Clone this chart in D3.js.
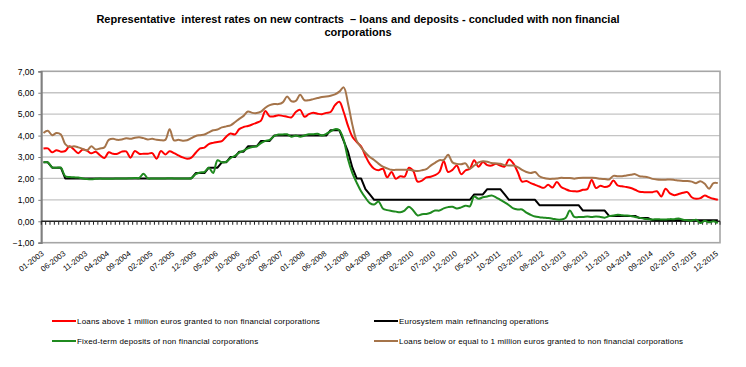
<!DOCTYPE html>
<html>
<head>
<meta charset="utf-8">
<script src="https://cdn.jsdelivr.net/npm/d3@7"></script>
<style>
  body { margin: 0; background: #fff; }
  svg { display: block; font-family: Arial, 'Liberation Sans', sans-serif; }
  .title { font-size: 11px; font-weight: bold; }
  .ylab { font-size: 8.5px; }
  .xlab { font-size: 7.8px; }
  .leg { font-size: 8px; letter-spacing: 0.18px; }
</style>
</head>
<body>
<svg width="746" height="367"></svg>
<script>
// categories: one per month, 01-2003 .. 12-2015
const months = d3.timeMonth.range(new Date(2003, 0, 1), new Date(2016, 0, 1))
  .map(d3.timeFormat('%m-%Y'));

const yTicks = [-1, 0, 1, 2, 3, 4, 5, 6, 7];

const seriesNames = [
  'Loans above 1 million euros granted to non financial corporations',
  'Eurosystem main refinancing operations',
  'Fixed-term deposits of non financial corporations',
  'Loans below or equal to 1 million euros granted to non financial corporations'
];

const loansAbove = [
  3.40,3.40,3.22,3.32,3.25,3.28,3.50,3.35,3.18,3.35,3.30,3.17,3.25,3.08,2.95,3.22,3.15,3.15,3.25,3.26,2.97,3.28,3.15,3.15,3.15,3.18,2.92,3.28,3.12,3.27,3.18,3.08,
  2.98,2.92,2.97,3.20,3.40,3.44,3.60,3.66,3.70,3.74,3.95,4.10,4.05,4.30,4.40,4.45,4.52,4.60,4.70,5.15,4.90,4.90,4.95,4.92,4.88,4.85,5.10,5.20,4.88,5.00,
  5.06,5.02,5.00,5.06,5.10,5.42,5.58,5.10,4.45,3.95,3.70,3.50,3.05,2.68,2.45,2.38,2.45,2.05,2.30,1.98,2.10,2.08,2.50,2.35,1.85,1.90,2.05,2.08,2.15,2.30,2.80,
  2.30,2.40,2.60,2.20,2.37,2.45,2.85,2.55,2.77,2.62,2.60,2.68,2.60,2.55,2.88,2.70,2.30,1.85,1.88,1.78,1.70,1.62,1.56,1.70,1.58,1.83,1.60,1.50,1.42,1.40,1.40,1.47,1.50,
  1.93,1.55,1.66,1.60,1.65,1.90,1.67,1.63,1.60,1.55,1.47,1.38,1.36,1.36,1.36,1.40,1.16,1.52,1.30,1.22,1.27,1.33,1.36,1.12,1.05,1.08,1.20,1.12,1.05,1.00
];

const mainRefi = [
  2.75,2.75,2.50,2.50,2.50,2.00,2.00,2.00,2.00,2.00,2.00,2.00,2.00,2.00,2.00,2.00,2.00,2.00,2.00,2.00,2.00,2.00,2.00,2.00,2.00,2.00,2.00,2.00,2.00,2.00,2.00,2.00,
  2.00,2.00,2.00,2.25,2.25,2.25,2.50,2.50,2.50,2.75,2.75,3.00,3.00,3.25,3.25,3.50,3.50,3.50,3.75,3.75,3.75,4.00,4.00,4.00,4.00,4.00,4.00,4.00,4.00,4.00,
  4.00,4.00,4.00,4.00,4.25,4.25,4.25,3.75,3.25,2.50,2.00,2.00,1.50,1.25,1.00,1.00,1.00,1.00,1.00,1.00,1.00,1.00,1.00,1.00,1.00,1.00,1.00,1.00,1.00,1.00,1.00,
  1.00,1.00,1.00,1.00,1.00,1.00,1.25,1.25,1.25,1.50,1.50,1.50,1.50,1.25,1.00,1.00,1.00,1.00,1.00,1.00,1.00,0.75,0.75,0.75,0.75,0.75,0.75,0.75,0.75,0.75,0.75,0.50,0.50,
  0.50,0.50,0.50,0.50,0.25,0.25,0.25,0.25,0.25,0.25,0.25,0.15,0.15,0.15,0.05,0.05,0.05,0.05,0.05,0.05,0.05,0.05,0.05,0.05,0.05,0.05,0.05,0.05,0.05,0.05
];

const depositsFixed = [
  2.75,2.75,2.52,2.50,2.50,2.10,2.07,2.05,2.04,2.00,1.97,1.96,1.98,2.00,1.98,1.99,1.99,2.00,2.00,2.00,2.01,2.02,2.02,2.22,2.00,2.00,2.00,2.00,2.00,2.01,2.00,2.00,
  2.00,2.00,2.02,2.20,2.28,2.30,2.50,2.25,2.85,2.75,2.78,2.95,3.05,3.20,3.30,3.40,3.47,3.50,3.65,3.75,3.80,3.97,4.05,4.05,4.06,3.95,4.00,3.95,4.00,4.06,
  4.06,4.08,4.00,4.08,4.20,4.30,4.25,3.80,2.90,2.25,1.80,1.40,1.10,0.85,0.78,0.92,0.60,0.52,0.48,0.45,0.42,0.50,0.68,0.50,0.27,0.33,0.34,0.40,0.50,0.50,0.60,
  0.66,0.68,0.60,0.65,0.73,0.70,1.15,1.05,1.12,1.16,1.20,1.12,1.00,0.88,0.75,0.60,0.55,0.55,0.40,0.30,0.22,0.19,0.17,0.15,0.12,0.08,0.08,0.15,0.50,0.20,0.20,0.20,0.22,
  0.20,0.22,0.20,0.17,0.24,0.27,0.30,0.28,0.27,0.25,0.20,0.16,0.12,0.10,0.08,0.10,0.08,0.08,0.10,0.10,0.13,0.07,0.05,0.03,0.07,-0.08,0.02,-0.05,0.00,-0.09
];

const loansBelow = [
  4.12,4.22,4.02,4.12,4.05,3.60,3.47,3.50,3.45,3.38,3.30,3.50,3.35,3.40,3.45,3.80,3.85,3.80,3.82,3.88,3.85,3.90,3.92,3.88,3.82,3.85,3.80,3.78,3.80,4.30,3.78,3.80,
  3.76,3.78,3.88,3.98,4.02,4.05,4.15,4.25,4.28,4.38,4.43,4.48,4.62,4.78,4.92,5.12,5.06,5.05,5.12,5.30,5.42,5.47,5.47,5.55,5.82,5.60,5.62,5.90,5.65,5.65,
  5.70,5.75,5.80,5.82,5.86,5.92,6.05,6.25,5.50,4.50,3.75,3.45,3.20,3.00,2.86,2.69,2.55,2.47,2.40,2.40,2.40,2.40,2.40,2.37,2.35,2.38,2.43,2.60,2.73,2.85,2.86,
  3.10,2.75,2.68,2.66,2.70,2.45,2.60,2.75,2.80,2.78,2.72,2.70,2.68,2.62,2.60,2.60,2.53,2.40,2.30,2.25,2.30,2.10,2.02,1.98,1.98,2.00,2.03,2.02,2.02,1.99,2.02,2.03,2.03,
  2.03,2.02,1.98,1.97,1.95,2.12,2.10,2.10,2.14,2.17,2.20,2.10,2.08,2.05,1.98,1.95,1.94,1.94,1.95,1.93,1.90,1.88,1.88,1.85,1.78,1.87,1.75,1.52,1.78,1.78
];

const colors = ['#ff0000', '#000000', '#1f8a1f', '#a5744a'];

const svg = d3.select('svg');
const plot = { left: 41.3, right: 720, top: 71.3, bottom: 242.7 };

const x = d3.scaleBand()
  .domain(months)
  .range([plot.left, plot.right])
  .padding(0);

const y = d3.scaleLinear()
  .domain([-1, 7])
  .range([plot.bottom, plot.top]);

const cx = m => x(m) + x.bandwidth() / 2;

// title
svg.append('text')
  .attr('class', 'title')
  .attr('x', 358).attr('y', 23)
  .attr('text-anchor', 'middle')
  .attr('xml:space', 'preserve')
  .text('Representative  interest rates on new contracts  \u2013 loans and deposits - concluded with non financial');
svg.append('text')
  .attr('class', 'title')
  .attr('x', 358).attr('y', 36)
  .attr('text-anchor', 'middle')
  .text('corporations');

// gridlines
svg.append('g')
  .selectAll('line')
  .data(yTicks.filter(d => d > -1 && d < 7 && d !== 0))
  .enter()
  .append('line')
  .attr('x1', plot.left).attr('x2', plot.right)
  .attr('y1', d => y(d)).attr('y2', d => y(d))
  .attr('stroke', '#c4c4c4')
  .attr('stroke-width', 1.3);

// plot frame
svg.append('rect')
  .attr('x', plot.left).attr('y', plot.top)
  .attr('width', plot.right - plot.left)
  .attr('height', plot.bottom - plot.top)
  .attr('fill', 'none')
  .attr('stroke', '#a6a6a6')
  .attr('stroke-width', 1.6);

// y axis
const yAxis = svg.append('g')
  .attr('transform', `translate(${plot.left},0)`)
  .call(d3.axisLeft(y)
    .tickValues(yTicks)
    .tickSize(3)
    .tickPadding(4)
    .tickFormat(d => d3.format('.2f')(d).replace('.', ',')));
yAxis.select('.domain').attr('stroke', '#7f7f7f').attr('stroke-width', 1.8);
yAxis.selectAll('.tick line').attr('stroke', '#7f7f7f');
yAxis.selectAll('.tick text').attr('class', 'ylab').attr('fill', '#000');

// zero axis with a tick between every month
const zero = svg.append('g');
zero.append('line')
  .attr('x1', plot.left).attr('x2', plot.right)
  .attr('y1', y(0)).attr('y2', y(0))
  .attr('stroke', '#222')
  .attr('stroke-width', 1.5);
zero.selectAll('line.tk')
  .data(months.concat(['end']))
  .enter()
  .append('line')
  .attr('class', 'tk')
  .attr('x1', d => d === 'end' ? plot.right : x(d))
  .attr('x2', d => d === 'end' ? plot.right : x(d))
  .attr('y1', y(0)).attr('y2', y(0) + 3.5)
  .attr('stroke', '#222')
  .attr('stroke-width', 1);

// x labels, every 5th month
svg.append('g')
  .selectAll('text')
  .data(months.filter((d, i) => i % 5 === 0))
  .enter()
  .append('text')
  .attr('class', 'xlab')
  .attr('text-anchor', 'end')
  .attr('transform', d => `translate(${cx(d) + 1},${plot.bottom + 12}) rotate(-37)`)
  .text(d => d);

// series
const series = [loansAbove, mainRefi, depositsFixed, loansBelow];
const lineSmooth = d3.line()
  .x((d, i) => cx(months[i]))
  .y(d => y(d))
  .curve(d3.curveCatmullRom.alpha(0.5));
const lineStraight = d3.line()
  .x((d, i) => cx(months[i]))
  .y(d => y(d));

svg.append('g')
  .selectAll('path')
  .data(series)
  .enter()
  .append('path')
  .attr('fill', 'none')
  .attr('stroke', (d, i) => colors[i])
  .attr('stroke-width', 2)
  .attr('stroke-linejoin', 'round')
  .attr('d', (d, i) => i === 1 ? lineStraight(d) : lineSmooth(d));

// legend
const legendPos = [[52, 321], [374, 321], [52, 341], [374, 341]];
const legend = svg.append('g')
  .selectAll('g')
  .data(seriesNames)
  .enter()
  .append('g')
  .attr('transform', (d, i) => `translate(${legendPos[i][0]},${legendPos[i][1]})`);
legend.append('line')
  .attr('x1', 0).attr('x2', 24)
  .attr('stroke', (d, i) => colors[i])
  .attr('stroke-width', 2);
legend.append('text')
  .attr('class', 'leg')
  .attr('x', 25).attr('y', 3)
  .text(d => d);
</script>
</body>
</html>
